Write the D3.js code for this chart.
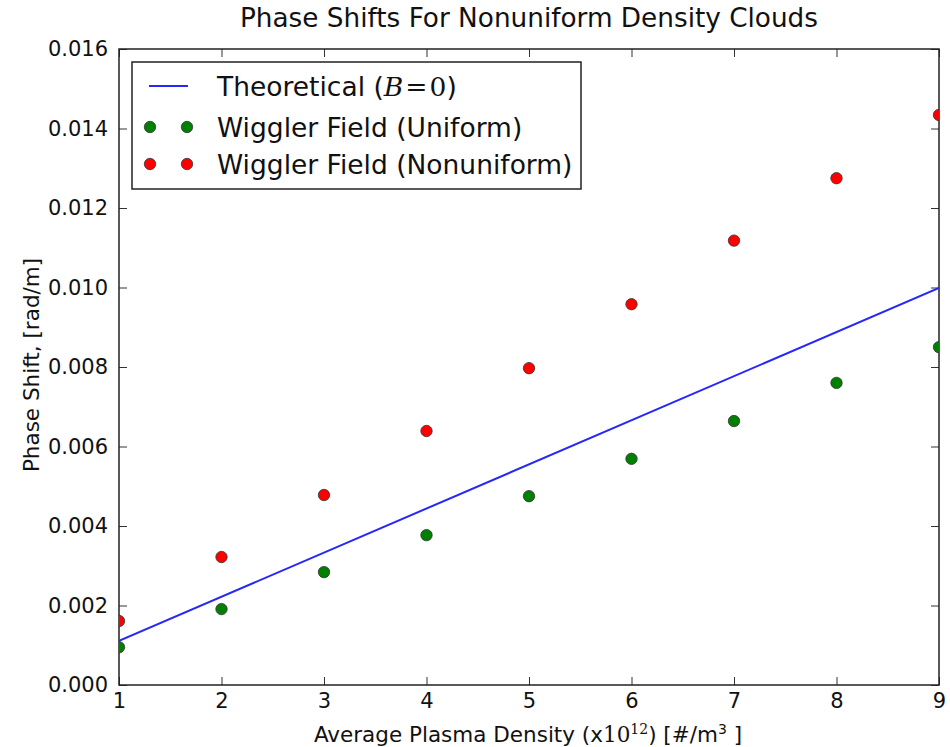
<!DOCTYPE html>
<html><head><meta charset="utf-8">
<script src="https://cdn.jsdelivr.net/npm/d3@7"></script>
<style>body{margin:0;background:#fff}svg{display:block}text{font-family:"DejaVu Sans",sans-serif;fill:#111}</style>
</head><body>
<svg id="c" width="950" height="747"></svg>
<script>
const densities = [1,2,3,4,5,6,7,8,9];
const uniformShift = [0.00095,0.00191,0.00284,0.00377,0.00475,0.00569,0.00664,0.00760,0.00850];
const nonuniformShift = [0.00161,0.00322,0.00478,0.00639,0.00797,0.00958,0.01118,0.01275,0.01434];
const theoryX = [1,9];
const theoryY = [0.00111,0.00999];
const xTicks = [1,2,3,4,5,6,7,8,9];
const yTicks = [0,0.002,0.004,0.006,0.008,0.010,0.012,0.014,0.016];

const svg = d3.select("#c");
const L=119,R=939,T=49,B=685;
const x = d3.scaleLinear().domain([1,9]).range([L,R]);
const y = d3.scaleLinear().domain([0,0.016]).range([B,T]);

svg.append("defs").append("clipPath").attr("id","clip").append("rect")
  .attr("x",L).attr("y",T).attr("width",R-L).attr("height",B-T);

const fs = 21;
const ax = svg.append("g").attr("transform",`translate(0,${B})`)
  .call(d3.axisBottom(x).tickValues(xTicks).tickFormat(d3.format("d")).tickSizeInner(-8).tickSizeOuter(0));
const axT = svg.append("g").attr("transform",`translate(0,${T})`)
  .call(d3.axisTop(x).tickValues(xTicks).tickFormat("").tickSizeInner(-8).tickSizeOuter(0));
const ay = svg.append("g").attr("transform",`translate(${L},0)`)
  .call(d3.axisLeft(y).tickValues(yTicks).tickFormat(d3.format(".3f")).tickSizeInner(-8).tickSizeOuter(0).tickPadding(11));
const ayR = svg.append("g").attr("transform",`translate(${R},0)`)
  .call(d3.axisRight(y).tickValues(yTicks).tickFormat("").tickSizeInner(-8).tickSizeOuter(0));
[ax,axT,ay,ayR].forEach(g=>{
  g.select(".domain").remove();
  g.selectAll(".tick line").attr("stroke","#333").attr("stroke-width",1);
  g.selectAll(".tick text").attr("font-size",fs).attr("font-family","DejaVu Sans").attr("fill","#111");
});
ax.selectAll(".tick text").attr("y",23).attr("dy","0");
svg.append("rect").attr("x",L).attr("y",T).attr("width",R-L).attr("height",B-T)
  .attr("fill","none").attr("stroke","#222").attr("stroke-width",1.5);

const plot = svg.append("g").attr("clip-path","url(#clip)");
plot.append("path").datum(theoryX.map((v,i)=>[v,theoryY[i]]))
  .attr("d",d3.line().x(d=>x(d[0])).y(d=>y(d[1])))
  .attr("stroke","#2626ff").attr("stroke-width",2).attr("fill","none");
plot.selectAll("circle.u").data(densities).enter().append("circle")
  .attr("cx",d=>x(d)).attr("cy",(d,i)=>y(uniformShift[i])).attr("r",5.7)
  .attr("fill","#008000").attr("stroke","#333").attr("stroke-width",0.8);
plot.selectAll("circle.n").data(densities).enter().append("circle")
  .attr("cx",d=>x(d)).attr("cy",(d,i)=>y(nonuniformShift[i])).attr("r",5.7)
  .attr("fill","#ff0000").attr("stroke","#333").attr("stroke-width",0.8);

// legend
const lg = svg.append("g");
lg.append("rect").attr("x",132).attr("y",62).attr("width",449).attr("height",127)
  .attr("fill","#fff").attr("stroke","#222").attr("stroke-width",1.5);
const lfs = 26.5;
lg.append("line").attr("x1",149).attr("x2",188).attr("y1",86).attr("y2",86).attr("stroke","#2626ff").attr("stroke-width",2);
const t1 = lg.append("text").attr("x",217).attr("y",86).attr("dy","0.36em").attr("font-size",lfs);
t1.append("tspan").text("Theoretical (");
t1.append("tspan").attr("font-family","DejaVu Serif").attr("font-style","italic").text("B");
t1.append("tspan").attr("font-family","DejaVu Serif").attr("dx",2).text("=");
t1.append("tspan").attr("font-family","DejaVu Serif").attr("dx",2).text("0");
t1.append("tspan").text(")");
[[127,"#008000","Wiggler Field (Uniform)"],[164,"#ff0000","Wiggler Field (Nonuniform)"]].forEach(([yy,c,t])=>{
  [150,187].forEach(cx=>lg.append("circle").attr("cx",cx).attr("cy",yy).attr("r",5.7).attr("fill",c).attr("stroke","#333").attr("stroke-width",0.8));
  lg.append("text").attr("x",217).attr("y",yy).attr("dy","0.36em").attr("font-size",lfs).text(t);
});

// title & labels
svg.append("text").attr("x",529).attr("y",27).attr("text-anchor","middle").attr("font-size",26.3).text("Phase Shifts For Nonuniform Density Clouds");
const xl = svg.append("text").attr("x",528).attr("y",742).attr("text-anchor","middle").attr("font-size",21.5);
xl.append("tspan").text("Average Plasma Density (x");
xl.append("tspan").attr("font-family","DejaVu Serif").text("10");
xl.append("tspan").attr("font-family","DejaVu Serif").attr("font-size",14).attr("dy","-0.6em").text("12");
xl.append("tspan").attr("dy","0.4em").text(") [#/m");
xl.append("tspan").attr("font-size",14).attr("dy","-0.6em").text("3");
xl.append("tspan").attr("dy","0.4em").text(" ]");
svg.append("text").attr("transform","translate(39,365) rotate(-90)").attr("text-anchor","middle").attr("font-size",21.5).text("Phase Shift, [rad/m]");
</script>
</body></html>
